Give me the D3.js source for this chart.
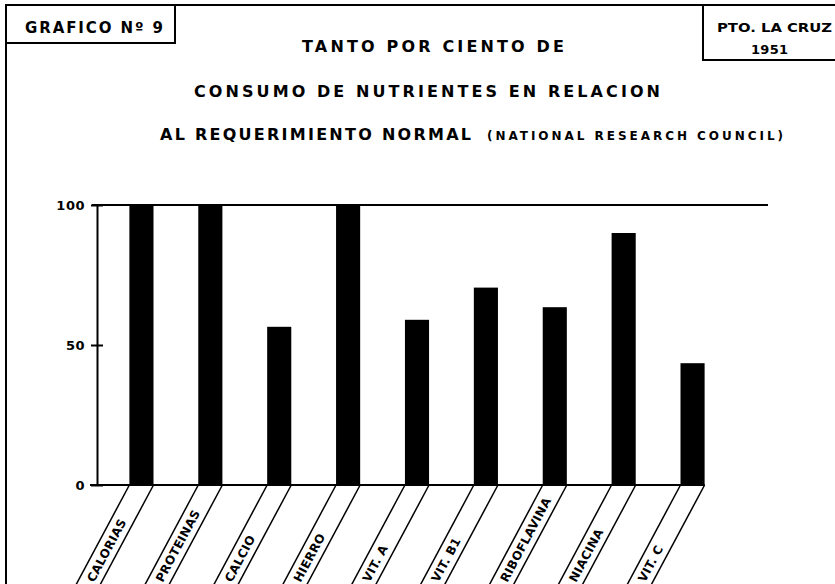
<!DOCTYPE html>
<html>
<head>
  <meta charset="utf-8">
  <title>Grafico Nº 9</title>
  <style>
    body { margin: 0; background: #fff; }
    svg text { font-family: "DejaVu Sans", sans-serif; font-weight: bold; fill: #000; }
  </style>
</head>
<body>
  <svg id="chart"></svg>

  <script src="https://d3js.org/d3.v7.min.js"></script>
  <script>
    // datos
    const nutrientes = ["CALORIAS", "PROTEINAS", "CALCIO", "HIERRO", "VIT. A", "VIT. B1", "RIBOFLAVINA", "NIACINA", "VIT. C"];
    const porcentaje = [100, 100, 56.5, 100, 59, 70.5, 63.5, 90, 43.5];
    const ticksY = [0, 50, 100];

    const width = 835;
    const height = 584;

    const svg = d3.select("#chart")
      .attr("width", width)
      .attr("height", height);

    // marco exterior
    svg.append("path")
      .attr("d", "M6,600 L6,5 L835,5")
      .attr("fill", "none").attr("stroke", "#000").attr("stroke-width", 2);

    // recuadro izquierdo
    svg.append("path")
      .attr("d", "M6,43 L175,43 L175,5")
      .attr("fill", "none").attr("stroke", "#000").attr("stroke-width", 2);
    svg.append("text")
      .attr("x", 25).attr("y", 33)
      .attr("font-size", 15)
      .attr("textLength", 138).attr("lengthAdjust", "spacing")
      .text("GRAFICO Nº 9");

    // recuadro derecho
    svg.append("path")
      .attr("d", "M703,5 L703,60 L835,60")
      .attr("fill", "none").attr("stroke", "#000").attr("stroke-width", 2);
    svg.append("text")
      .attr("x", 717).attr("y", 32)
      .attr("font-size", 13)
      .attr("textLength", 115).attr("lengthAdjust", "spacingAndGlyphs")
      .text("PTO. LA CRUZ");
    svg.append("text")
      .attr("x", 751).attr("y", 54)
      .attr("font-size", 13)
      .attr("textLength", 37).attr("lengthAdjust", "spacing")
      .text("1951");

    // titulos
    svg.append("text")
      .attr("x", 302).attr("y", 52)
      .attr("font-size", 16)
      .attr("textLength", 262).attr("lengthAdjust", "spacing")
      .text("TANTO  POR  CIENTO  DE");
    svg.append("text")
      .attr("x", 194).attr("y", 97)
      .attr("font-size", 16)
      .attr("textLength", 466).attr("lengthAdjust", "spacing")
      .text("CONSUMO  DE  NUTRIENTES  EN  RELACION");
    svg.append("text")
      .attr("x", 160).attr("y", 140)
      .attr("font-size", 16)
      .attr("textLength", 311).attr("lengthAdjust", "spacing")
      .text("AL  REQUERIMIENTO  NORMAL");
    svg.append("text")
      .attr("x", 487).attr("y", 140)
      .attr("font-size", 12)
      .attr("textLength", 296).attr("lengthAdjust", "spacing")
      .text("(NATIONAL  RESEARCH  COUNCIL)");

    // escalas
    const x = d3.scaleBand()
      .domain(nutrientes)
      .range([107, 727])
      .paddingInner(0.65)
      .paddingOuter(0.325);

    const y = d3.scaleLinear()
      .domain([0, 100])
      .range([485, 205]);

    // linea superior (100 %)
    svg.append("line")
      .attr("x1", 92).attr("x2", 768)
      .attr("y1", y(100)).attr("y2", y(100))
      .attr("stroke", "#000").attr("stroke-width", 2);

    // linea base
    svg.append("line")
      .attr("x1", 90).attr("x2", x(nutrientes[nutrientes.length - 1]) + x.bandwidth())
      .attr("y1", y(0)).attr("y2", y(0))
      .attr("stroke", "#000").attr("stroke-width", 2);

    // eje y
    const ejeY = svg.append("g")
      .attr("transform", "translate(97,0)")
      .call(d3.axisLeft(y).tickValues(ticksY).tickSize(6).tickSizeOuter(0).tickPadding(6));
    ejeY.select(".domain").attr("stroke", "#000").attr("stroke-width", 2);
    ejeY.selectAll(".tick line").attr("x1", 6).attr("stroke", "#000").attr("stroke-width", 2);
    ejeY.selectAll(".tick text")
      .attr("font-size", 13)
      .attr("font-family", "DejaVu Sans")
      .attr("font-weight", "bold")
      .attr("letter-spacing", 0.5)
      .attr("fill", "#000");

    // barras
    svg.selectAll(".barra")
      .data(porcentaje)
      .enter().append("rect")
      .attr("class", "barra")
      .attr("x", (d, i) => x(nutrientes[i]))
      .attr("y", d => y(d))
      .attr("width", x.bandwidth())
      .attr("height", d => y(0) - y(d))
      .attr("fill", "#000");

    // rotulos inclinados
    const pend = 0.535;   // dx por dy de las guias
    const yFin = 600;
    const rotulos = svg.selectAll(".rotulo")
      .data(nutrientes)
      .enter().append("g")
      .attr("class", "rotulo");

    rotulos.append("line")
      .attr("x1", d => x(d))
      .attr("y1", y(0))
      .attr("x2", d => x(d) - pend * (yFin - y(0)))
      .attr("y2", yFin)
      .attr("stroke", "#000").attr("stroke-width", 1.5);

    rotulos.append("line")
      .attr("x1", d => x(d) + x.bandwidth())
      .attr("y1", y(0))
      .attr("x2", d => x(d) + x.bandwidth() - pend * (yFin - y(0)))
      .attr("y2", yFin)
      .attr("stroke", "#000").attr("stroke-width", 1.5);

    const ang = -Math.atan2(1, pend) * 180 / Math.PI;
    rotulos.append("text")
      .attr("transform", d => {
        const cx = x(d) + x.bandwidth() / 2 - pend * (581 - y(0));
        return `translate(${cx},581) rotate(${ang})`;
      })
      .attr("dy", "0.36em")
      .attr("font-size", 12)
      .attr("letter-spacing", 0.3)
      .text(d => d);
  </script>
</body>
</html>
